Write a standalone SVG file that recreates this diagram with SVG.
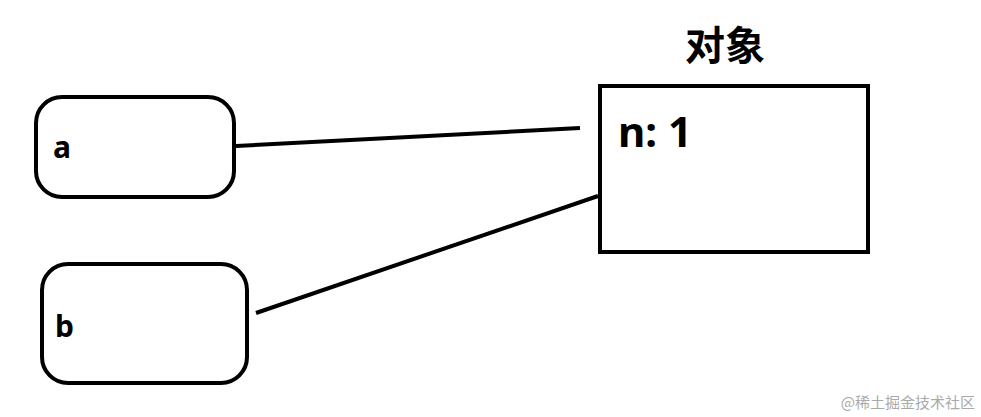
<svg xmlns="http://www.w3.org/2000/svg" width="981" height="417" viewBox="0 0 981 417">
<style>
.n{fill:#fff;stroke:#000;stroke-width:4}
.t{font-family:"Noto Sans","Noto Sans CJK SC",sans-serif;font-weight:bold;fill:#000}
.c{stroke:#000;stroke-width:4;fill:none}
</style>
<rect width="981" height="417" fill="#fff"/>
<g id="a"><rect class="n" x="36" y="97" width="198" height="100" rx="26"/><text class="t" x="53" y="158" font-size="30">a</text></g>
<g id="b"><rect class="n" x="42" y="264" width="205" height="119" rx="26"/><text class="t" x="55" y="337" font-size="30">b</text></g>
<g id="obj"><rect class="n" x="600" y="86" width="268" height="166"/><text class="t" x="618" y="147" font-size="42">n: 1</text><text class="t" x="685" y="60" font-size="40">对象</text></g>
<g id="connectors"><line class="c" x1="236" y1="146" x2="580" y2="128"/><line class="c" x1="256" y1="313" x2="598" y2="196"/></g>
<text x="975" y="408" text-anchor="end" font-family="Noto Sans CJK SC,sans-serif" font-size="15" fill="#aaa">@稀土掘金技术社区</text>
</svg>
